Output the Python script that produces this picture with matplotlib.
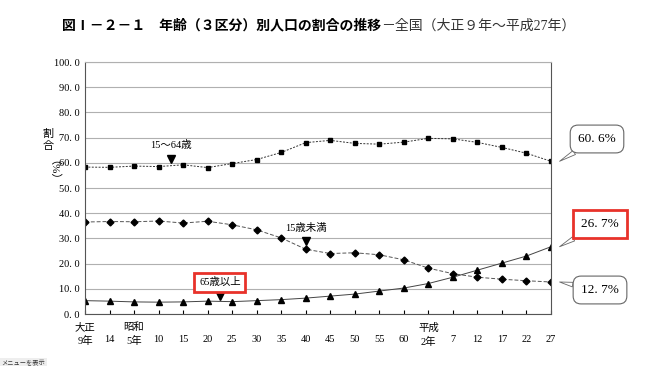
import numpy as np
import matplotlib.pyplot as plt

plt.rcParams['font.family'] = ['Liberation Serif', 'Noto Sans CJK JP', 'DejaVu Sans']

# census years (era labels)
years = ['大正\n9年', '\n14', '昭和\n5年', '\n10', '\n15', '\n20', '\n25', '\n30', '\n35',
         '\n40', '\n45', '\n50', '\n55', '\n60', '平成\n2年', '\n7', '\n12', '\n17', '\n22', '\n27']

# share of population by age group (%)
age_0_14 = [36.5, 36.7, 36.6, 36.9, 36.1, 36.8, 35.4, 33.4, 30.2, 25.7,
            24.0, 24.3, 23.5, 21.5, 18.2, 16.0, 14.6, 13.8, 13.2, 12.7]
age_15_64 = [58.3, 58.2, 58.7, 58.5, 59.2, 58.1, 59.7, 61.3, 64.1, 68.0,
             68.9, 67.7, 67.4, 68.2, 69.7, 69.5, 68.1, 66.1, 63.8, 60.6]
age_65 = [5.3, 5.1, 4.8, 4.7, 4.8, 5.1, 4.9, 5.3, 5.7, 6.3,
          7.1, 7.9, 9.1, 10.3, 12.1, 14.6, 17.4, 20.2, 23.0, 26.7]

x = np.arange(len(years))

fig = plt.figure(figsize=(6.5, 3.66), dpi=100)
ax = fig.add_axes([85/650, 1-314/366, (551-85)/650, (314-62)/366])

ax.set_xlim(0, len(years) - 1)
ax.set_ylim(0, 100)
ax.set_yticks(np.arange(0, 101, 10))
ax.set_yticklabels([f'{v:.0f}. 0' for v in range(0, 101, 10)], fontsize=7.5)
ax.set_xticks(x)
ax.set_xticklabels(years, fontsize=7.5, linespacing=1.5)
ax.tick_params(axis='x', length=3, direction='in', pad=6)
ax.tick_params(axis='y', length=0, pad=4)
ax.grid(axis='y', color='#b0b0b0', lw=0.8)
ax.set_axisbelow(True)
for s in ['left', 'right', 'bottom']:
    ax.spines[s].set_color('#555555')
    ax.spines[s].set_linewidth(0.8)
ax.spines['top'].set_color('#b0b0b0')

ax.plot(x, age_15_64, color='#333333', ls=(0, (2, 1.5)), lw=0.7,
        marker='s', ms=3.5, mfc='black', mec='black')
ax.plot(x, age_0_14, color='#555555', ls=(0, (4, 2)), lw=0.7,
        marker='D', ms=3.5, mfc='black', mec='black')
ax.plot(x, age_65, color='#444444', ls='-', lw=0.7,
        marker='^', ms=4.5, mfc='black', mec='black')

# series labels with down arrows
ax.text(3.5, 67.0, '15～64歳', ha='center', va='center', fontsize=7.5)
ax.plot([3.5], [61.5], marker='v', ms=6, color='black')
ax.text(9.0, 34.0, '15歳未満', ha='center', va='center', fontsize=7.5)
ax.plot([9.0], [29.0], marker='v', ms=6, color='black')
ax.text(5.5, 12.6, '65歳以上', ha='center', va='center', fontsize=7.5,
        bbox=dict(boxstyle='square,pad=0.45', fc='white', ec='#e8322a', lw=2))
ax.plot([5.5], [7.1], marker='v', ms=6, color='black')

# end-value callouts
callouts = [(age_15_64[-1], (597/650, 1-139/366), 'round,pad=0.6', '#666666', 0.8),
            (age_65[-1], (600/650, 1-224/366), 'square,pad=0.6', '#e8322a', 2),
            (age_0_14[-1], (600/650, 1-290/366), 'round,pad=0.6', '#666666', 0.8)]
for val, pos, bs, ec, lw in callouts:
    ax.annotate(f'{val:.1f}%'.replace('.', '. '), xy=(x[-1] + 0.35, val),
                xytext=pos, textcoords='figure fraction', annotation_clip=False,
                ha='center', va='center', fontsize=9.5,
                bbox=dict(boxstyle=bs, fc='white', ec=ec, lw=lw),
                arrowprops=dict(arrowstyle='wedge,tail_width=0.35', fc='white',
                                ec='#666666', lw=0.6, shrinkA=0, shrinkB=0))

# y axis label
fig.text(48/650, 1-140/366, '割\n合', ha='center', va='center', fontsize=8, linespacing=1.3)
fig.text(48/650, 1-176/366, '（%）', ha='center', va='center', fontsize=8, rotation=-90)

# title
fig.text(381/650, 1-26/366, '図Ⅰ－２－１　年齢（３区分）別人口の割合の推移', ha='right', va='center',
         fontsize=10, fontweight='bold')
fig.text(381/650, 1-26/366, '－全国（大正９年～平成27年）', ha='left', va='center',
         fontsize=10, color='#333333')

fig.text(0.002, 0.003, 'メニューを表示', fontsize=4.5, color='#333333',
         bbox=dict(boxstyle='square,pad=0.3', fc='#eeeeee', ec='none'))

fig.savefig('out.png', dpi=100)
